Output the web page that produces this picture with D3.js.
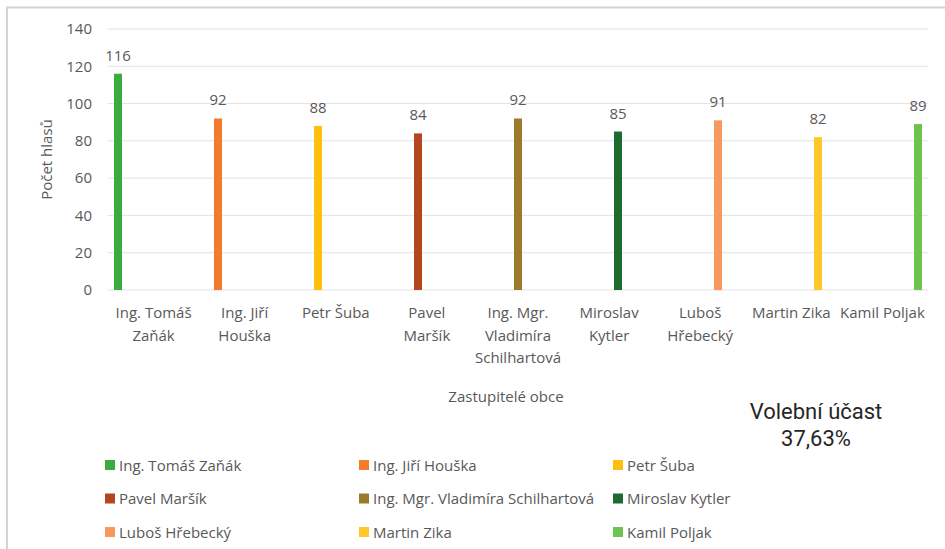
<!DOCTYPE html>
<html>
<head>
<meta charset="utf-8">
<script src="https://cdn.jsdelivr.net/npm/d3@7"></script>
<style>
  body { margin: 0; background: #fff; }
  svg { display: block; }
  .lbl { font-family: "Open Sans", sans-serif; font-size: 15px; fill: #595959; }
</style>
</head>
<body>
<svg id="chart" width="945" height="549"></svg>
<script>
// candidates (series == categories, one bar each)
var names = ["Ing. Tomáš Zaňák", "Ing. Jiří Houška", "Petr Šuba", "Pavel Maršík",
  "Ing. Mgr. Vladimíra Schilhartová", "Miroslav Kytler", "Luboš Hřebecký", "Martin Zika", "Kamil Poljak"];
var votes = [116, 92, 88, 84, 92, 85, 91, 82, 89];
var colors = ["#3cab3f", "#f47b2e", "#ffbf0f", "#b3461e", "#9b7a2b", "#1f6b2f", "#f7985e", "#ffc72a", "#6cc34e"];
// axis labels as wrapped by the original
var tickLines = [["Ing. Tomáš", "Zaňák"], ["Ing. Jiří", "Houška"], ["Petr Šuba"], ["Pavel", "Maršík"],
  ["Ing. Mgr.", "Vladimíra", "Schilhartová"], ["Miroslav", "Kytler"], ["Luboš", "Hřebecký"], ["Martin Zika"], ["Kamil Poljak"]];
var yTicks = [0, 20, 40, 60, 80, 100, 120, 140];

var svg = d3.select("#chart");
var plot = {left: 108, right: 928, top: 29, bottom: 290};

// outer frame (only top and left edges visible in the crop)
svg.append("path")
  .attr("d", "M7,549 V7.5 H945")
  .attr("fill", "none").attr("stroke", "#d4d4d4").attr("stroke-width", 2);

var y = d3.scaleLinear().domain([0, 140]).range([plot.bottom, plot.top]);
var x0 = d3.scaleBand().domain(names).range([plot.left, plot.right])
  .paddingInner(0.122).paddingOuter(0.061);
var x1 = d3.scaleBand().domain(names).range([0, x0.bandwidth()]);

// gridlines
svg.append("g").selectAll("line").data(yTicks).enter().append("line")
  .attr("x1", plot.left).attr("x2", plot.right)
  .attr("y1", function(d) { return y(d); }).attr("y2", function(d) { return y(d); })
  .attr("stroke", "#e3e3e3").attr("stroke-width", 1);

// y axis labels
var yAxis = d3.axisLeft(y).tickValues(yTicks).tickSize(0).tickPadding(16);
var yg = svg.append("g").attr("transform", "translate(" + (plot.left) + ",0)").call(yAxis);
yg.select(".domain").remove();
yg.selectAll("text").attr("class", "lbl").attr("font-family", null).attr("font-size", null);

// bars
function barX(d, i) { return x0(names[i]) + x1(names[i]) + x1.bandwidth() / 2; }
svg.append("g").selectAll("rect").data(votes).enter().append("rect")
  .attr("x", function(d, i) { return barX(d, i) - 4; })
  .attr("width", 8)
  .attr("y", function(d) { return y(d); })
  .attr("height", function(d) { return y(0) - y(d); })
  .attr("fill", function(d, i) { return colors[i]; });

// value labels
svg.append("g").selectAll("text").data(votes).enter().append("text")
  .attr("class", "lbl")
  .attr("x", barX)
  .attr("y", function(d) { return y(d) - 13; })
  .attr("text-anchor", "middle")
  .text(function(d) { return d; });

// x category labels
var xl = svg.append("g").selectAll("text").data(tickLines).enter().append("text")
  .attr("class", "lbl")
  .attr("text-anchor", "middle")
  .attr("x", function(d, i) { return x0(names[i]) + x0.bandwidth() / 2; })
  .attr("y", 318);
xl.selectAll("tspan").data(function(d) { return d; }).enter().append("tspan")
  .attr("x", function() { return d3.select(this.parentNode).attr("x"); })
  .attr("dy", function(d, i) { return i === 0 ? 0 : 22.5; })
  .text(function(d) { return d; });

// axis titles
svg.append("text").attr("class", "lbl")
  .attr("x", 506).attr("y", 402).attr("text-anchor", "middle")
  .text("Zastupitelé obce");
svg.append("text").attr("class", "lbl")
  .attr("transform", "translate(52," + ((plot.top + plot.bottom) / 2) + ") rotate(-90)")
  .attr("text-anchor", "middle")
  .text("Počet hlasů");

// turnout note
var note = svg.append("text")
  .attr("text-anchor", "middle")
  .attr("font-family", "Roboto, sans-serif").attr("font-size", 22)
  .attr("fill", "#262626");
note.append("tspan").attr("x", 816).attr("y", 419).text("Volební účast");
note.append("tspan").attr("x", 816).attr("y", 446).text("37,63%");

// legend, 3 columns
var leg = svg.append("g").selectAll("g").data(names).enter().append("g")
  .attr("transform", function(d, i) {
    return "translate(" + (105 + (i % 3) * 254) + "," + (465 + Math.floor(i / 3) * 33.5) + ")";
  });
leg.append("rect").attr("x", 0).attr("y", -5).attr("width", 10).attr("height", 10)
  .attr("fill", function(d, i) { return colors[i]; });
leg.append("text").attr("class", "lbl")
  .attr("x", 14).attr("y", 5.5)
  .text(function(d) { return d; });
</script>
</body>
</html>
